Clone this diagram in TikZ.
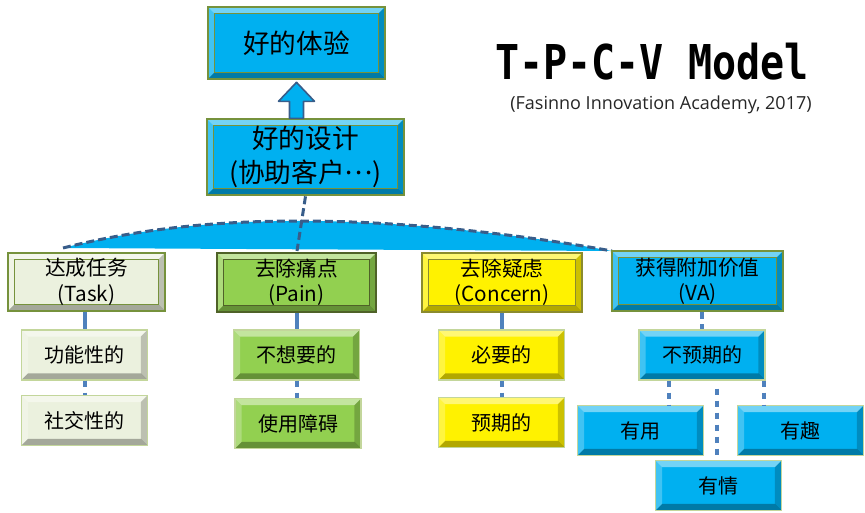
\documentclass[tikz,border=0pt]{standalone}
\usepackage{fontspec}
\newfontfamily\cjk{Noto Sans CJK SC}
\newfontfamily\titlefont{DejaVu Sans Mono}
\newfontfamily\subfont{Open Sans}
\usetikzlibrary{calc}
\definecolor{vablue}{HTML}{00B0F0}
\definecolor{olivea}{HTML}{76923C}
\definecolor{oliveb}{HTML}{4F6228}
\definecolor{olivec}{HTML}{8B8B2E}
\definecolor{paleg}{HTML}{EBF1DE}
\definecolor{paing}{HTML}{92D050}
\definecolor{rimg}{HTML}{C3D69B}
\definecolor{linkb}{HTML}{4F81BD}
\definecolor{dashb}{HTML}{385D8A}
\newcommand{\ppb}{path picture bounding box}
% light top/left, dark bottom/right
\newcommand{\bevelfaces}{%
  \fill[white,opacity=.45] (\ppb.north west) -- (\ppb.north east) -- ([shift={(-5pt,-5pt)}]\ppb.north east) -- ([shift={(5pt,-5pt)}]\ppb.north west) -- cycle;
  \fill[white,opacity=.25] (\ppb.north west) -- ([shift={(5pt,-5pt)}]\ppb.north west) -- ([shift={(5pt,5pt)}]\ppb.south west) -- (\ppb.south west) -- cycle;
  \fill[black,opacity=.3] (\ppb.south west) -- ([shift={(5pt,5pt)}]\ppb.south west) -- ([shift={(-5pt,5pt)}]\ppb.south east) -- (\ppb.south east) -- cycle;
  \fill[black,opacity=.2] (\ppb.north east) -- (\ppb.south east) -- ([shift={(-5pt,5pt)}]\ppb.south east) -- ([shift={(-5pt,-5pt)}]\ppb.north east) -- cycle;
}
\tikzset{
    bevel/.style = {path picture={\bevelfaces}},
    bevelframe/.style = {path picture={\bevelfaces
        \draw[#1,line width=1pt] ([shift={(5pt,-5pt)}]\ppb.north west) rectangle ([shift={(-5pt,5pt)}]\ppb.south east);}},
    topnode/.style 2 args = {rectangle, fill=#1, draw=#2, line width=2pt, bevelframe=#2, align=center, inner sep=0pt,font=\cjk\fontsize{20}{25}\selectfont},
    midnode/.style 2 args = {rectangle, fill=#1, draw=#2, line width=2pt, bevelframe=#2, align=center, inner sep=0pt,font=\cjk\fontsize{15.5}{19}\selectfont},
    subnode/.style = {rectangle, fill=#1, draw=rimg, line width=1pt, bevel, minimum width=94.5pt, minimum height=37.5pt,font=\cjk\fontsize{15}{18}\selectfont},
    edgen/.style = {line width=3pt,linkb},
    edged/.style = {line width=3pt,linkb,dash pattern=on 5pt off 4pt},
    humpline/.style = {line width=2.25pt,dashb,dash pattern=on 6pt off 3pt},
}

\begin{document}
\begin{tikzpicture}[x=0.75pt,y=-0.75pt,
    uparrow/.style={draw=dashb, fill=vablue, line width=1.2pt, line join=round},
]
\useasboundingbox (0,0) rectangle (865,513);
% hump under the design box
\fill[vablue] (63,248) .. controls (150,226) and (230,221) .. (300,221) .. controls (420,221) and (540,238) .. (612,251) -- cycle;
\draw[humpline] (63,248) .. controls (150,226) and (230,221) .. (300,221) .. controls (420,221) and (540,238) .. (612,251);
\coordinate (hump) at (297,251);
%
\node[topnode={vablue}{olivea}, minimum width=132.75pt, minimum height=54pt] (exp) at (296.5,43) {好的体验};
\node[topnode={vablue}{olivea}, minimum width=147.75pt, minimum height=57pt] (design) at (305.5,157) {好的设计\\(协助客户\raisebox{.3em}{…})};
\node[midnode={paleg}{olivea}, minimum width=117.75pt, minimum height=43.5pt] (task) at (86.5,282) {达成任务\\(Task)};
\node[midnode={paing}{oliveb}, minimum width=119.25pt, minimum height=44.25pt] (pain) at (296.5,282.5) {去除痛点\\(Pain)};
\node[midnode={yellow}{olivec}, minimum width=120pt, minimum height=44.25pt] (concern) at (502,282.5) {去除疑虑\\(Concern)};
\node[midnode={vablue}{olivea}, minimum width=128.25pt, minimum height=45pt] (va) at (697.5,281) {获得附加价值\\(VA)};
%
\node[subnode=paleg] (func) at (84.5,355) {功能性的};
\node[subnode=paleg] (social) at (84.5,420.5) {社交性的};
\node[subnode=paing] (unwanted) at (296.5,355) {不想要的};
\node[subnode=paing] (barrier) at (298,423.5) {使用障碍};
\node[subnode=yellow] (needed) at (501.5,355) {必要的};
\node[subnode=yellow] (expected) at (501.5,422.5) {预期的};
\node[subnode=vablue] (unexp) at (702,355) {不预期的};
\node[subnode=vablue] (useful) at (640.5,430.5) {有用};
\node[subnode=vablue] (fun) at (800.5,430.5) {有趣};
\node[subnode=vablue] (emo) at (718.5,485.5) {有情};
%
\node[font=\titlefont\bfseries\fontsize{30}{30}\selectfont] (title) at (652,62) {\scalebox{1}[1.2]{T-P-C-V Model}};
\node[font=\subfont\fontsize{13.5}{16}\selectfont, text=black!85] (source) at (661,105) {(Fasinno Innovation Academy, 2017)};
%
\draw[uparrow] ($(exp.south)+(0,2)$) -- ++(18,19) -- ++(-11,0) -- ++(0,17) -- ++(-14,0) -- ++(0,-17) -- ++(-11,0) -- cycle;
\draw[humpline] (design.south) -- (hump);
%
\draw[edgen] (func.north |- task.south) -- (func.north);
\draw[edged] (func.south) -- (social.north);
\draw[edgen] (unwanted.north |- pain.south) -- (unwanted.north);
\draw[edged] (unwanted.south) -- (unwanted.south |- barrier.north);
\draw[edgen] (needed.north |- concern.south) -- (needed.north);
\draw[edged] (needed.south) -- (expected.north);
\draw[edged] (unexp.north |- va.south) -- (unexp.north);
\coordinate (uL) at ([xshift=-25pt]unexp.south);
\coordinate (uM) at ([xshift=11pt]unexp.south);
\coordinate (uR) at ([xshift=-1pt]unexp.south east);
\draw[edged] (uL) -- (uL |- useful.north);
\draw[edged] ([yshift=-6pt]uM) -- (uM |- emo.north);
\draw[edged] (uR) -- (uR |- fun.north);

\end{tikzpicture}
\end{document}
